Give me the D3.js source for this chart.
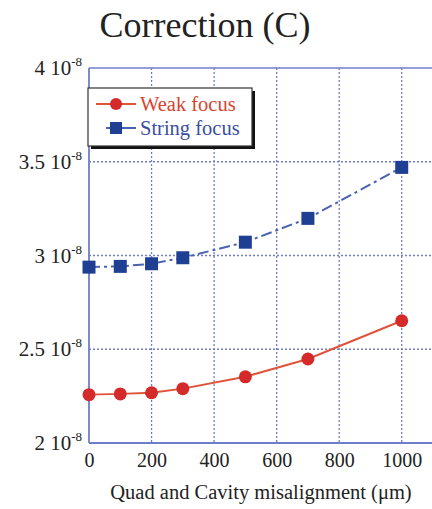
<html>
<head>
<script src="https://d3js.org/d3.v7.min.js"></script>
<style>
  body { margin: 0; background: white; }
</style>
</head>
<body>
<svg id="chart" width="432" height="509"></svg>
<script>

// data
var xValues = [0, 100, 200, 300, 500, 700, 1000];
var weakFocus = [2.258, 2.262, 2.268, 2.29, 2.353, 2.448, 2.652];
var stringFocus = [2.938, 2.942, 2.956, 2.988, 3.071, 3.198, 3.47];
var xTicks = [0, 200, 400, 600, 800, 1000];
var yTicks = [2, 2.5, 3, 3.5, 4];
var yTickLabels = ["2", "2.5", "3", "3.5", "4"];
var seriesNames = ["Weak focus", "String focus"];

var serif = "'Times New Roman', Times, 'Liberation Serif', 'DejaVu Serif', serif";

var svg = d3.select("#chart").attr("font-family", serif);

var pLeft = 89, pRight = 433, pTop = 68, pBottom = 443;
var axisColor = "#6f7dc9";
var red = "#d42a2a", blue = "#1f3f92";

var x = d3.scaleLinear().domain([0, 1100]).range([pLeft, pRight]);
var y = d3.scaleLinear().domain([2, 4]).range([pBottom, pTop]);

// title
svg.append("text")
  .attr("x", 205).attr("y", 37)
  .attr("text-anchor", "middle")
  .attr("font-family", serif)
  .attr("font-size", 36)
  .attr("fill", "#222")
  .text("Correction (C)");

// grid
svg.append("g").selectAll("line")
  .data(xTicks.slice(1))
  .enter().append("line")
  .attr("x1", function(d) { return x(d); })
  .attr("x2", function(d) { return x(d); })
  .attr("y1", pTop).attr("y2", pBottom)
  .style("stroke", axisColor)
  .style("stroke-width", 1.3)
  .style("stroke-dasharray", "2,2");

svg.append("g").selectAll("line")
  .data(yTicks.slice(1, -1))
  .enter().append("line")
  .attr("x1", pLeft).attr("x2", pRight)
  .attr("y1", function(d) { return y(d); })
  .attr("y2", function(d) { return y(d); })
  .style("stroke", axisColor)
  .style("stroke-width", 1.3)
  .style("stroke-dasharray", "2,2");

// frame
svg.append("line").attr("x1", pLeft).attr("x2", pLeft).attr("y1", pTop).attr("y2", pBottom)
  .style("stroke", axisColor).style("stroke-width", 1.8);
svg.append("line").attr("x1", pLeft).attr("x2", pRight).attr("y1", pBottom).attr("y2", pBottom)
  .style("stroke", axisColor).style("stroke-width", 1.8);
svg.append("line").attr("x1", pLeft).attr("x2", pRight).attr("y1", pTop).attr("y2", pTop)
  .style("stroke", axisColor).style("stroke-width", 1.3);

// x axis labels
var xAxis = d3.axisBottom(x).tickValues(xTicks).tickFormat(d3.format("d")).tickSize(0).tickPadding(10);
var gx = svg.append("g").attr("transform", "translate(0," + pBottom + ")").call(xAxis);
gx.attr("font-family", serif);
gx.select(".domain").remove();
gx.selectAll("text")
  .attr("font-size", 20)
  .attr("fill", "#222");

svg.append("text")
  .attr("x", 261).attr("y", 499)
  .attr("text-anchor", "middle")
  .attr("font-family", serif)
  .attr("font-size", 20.5)
  .attr("fill", "#222")
  .text("Quad and Cavity misalignment (\u03bcm)");

// y labels "a 10^-8"
var ylab = svg.append("g").selectAll("text")
  .data(yTicks)
  .enter().append("text")
  .attr("x", 82)
  .attr("y", function(d) { return y(d) + 7; })
  .attr("text-anchor", "end")
  .attr("font-family", serif)
  .attr("font-size", 21)
  .attr("fill", "#222");
ylab.append("tspan").text(function(d, i) { return yTickLabels[i] + " 10"; });
ylab.append("tspan").attr("dy", -9).attr("font-size", 13).text("-8");

// lines
var line = d3.line()
  .x(function(d) { return x(d[0]); })
  .y(function(d) { return y(d[1]); });

var weakPts = xValues.map(function(v, i) { return [v, weakFocus[i]]; });
var stringPts = xValues.map(function(v, i) { return [v, stringFocus[i]]; });

svg.append("path").datum(weakPts).attr("d", line)
  .attr("fill", "none").style("stroke", "#e0533a").style("stroke-width", 2);
svg.append("path").datum(stringPts).attr("d", line)
  .attr("fill", "none").style("stroke", "#4a62b2").style("stroke-width", 2)
  .style("stroke-dasharray", "11,4,3,4");

svg.append("g").selectAll("circle")
  .data(weakPts).enter().append("circle")
  .attr("cx", function(d) { return x(d[0]); })
  .attr("cy", function(d) { return y(d[1]); })
  .attr("r", 6.5)
  .attr("fill", red);

svg.append("g").selectAll("rect")
  .data(stringPts).enter().append("rect")
  .attr("x", function(d) { return x(d[0]) - 6.5; })
  .attr("y", function(d) { return y(d[1]) - 6.5; })
  .attr("width", 13).attr("height", 13)
  .attr("fill", blue);

// legend
var lg = svg.append("g");
lg.append("rect").attr("x", 91).attr("y", 91).attr("width", 164).attr("height", 58).attr("fill", "#111");
lg.append("rect").attr("x", 88).attr("y", 88).attr("width", 164).attr("height", 58)
  .attr("fill", "white").style("stroke", "#333").style("stroke-width", 1.2);

lg.append("line").attr("x1", 96).attr("x2", 136).attr("y1", 104).attr("y2", 104)
  .style("stroke", "#e0533a").style("stroke-width", 2);
lg.append("circle").attr("cx", 116).attr("cy", 104).attr("r", 6).attr("fill", red);
lg.append("text").attr("x", 140).attr("y", 111).attr("font-family", serif).attr("font-size", 20.5).attr("fill", "#d8432f").text(seriesNames[0]);

lg.append("line").attr("x1", 106).attr("x2", 136).attr("y1", 128).attr("y2", 128)
  .style("stroke", "#4a62b2").style("stroke-width", 2);
lg.append("rect").attr("x", 110).attr("y", 122).attr("width", 12).attr("height", 12).attr("fill", blue);
lg.append("text").attr("x", 140).attr("y", 135).attr("font-family", serif).attr("font-size", 20.5).attr("fill", "#3a4ea0").text(seriesNames[1]);

</script>
</body>
</html>
